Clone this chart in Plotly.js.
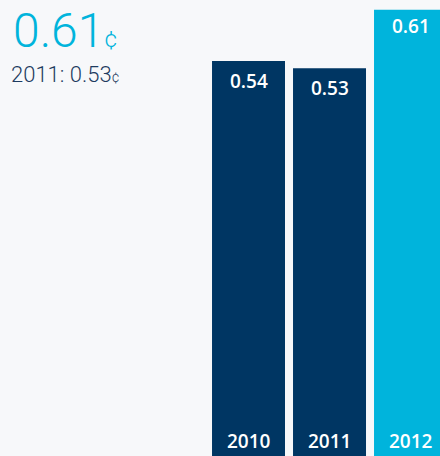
<!DOCTYPE html>
<html>
<head>
<meta charset="utf-8">
<script src="https://cdn.plot.ly/plotly-3.0.1.min.js"></script>
<style>
html,body{margin:0;padding:0;background:#f7f8fa;}
#chart{width:440px;height:456px;}
</style>
</head>
<body>
<div id="chart"></div>
<script>
var years = ['2010', '2011', '2012'];
var values = [0.54, 0.53, 0.61];
var barColors = ['#003663', '#003663', '#00b4dc'];
var headline = '0.61';
var subline = '2011: 0.53';

var cyan = '#00b4dc';
var labelFont = {family: '"Open Sans", "DejaVu Sans", sans-serif', size: 19, color: '#ffffff', weight: 600};

var annotations = [];
years.forEach(function (yr, i) {
  annotations.push({
    x: i, y: values[i], xref: 'x', yref: 'y',
    text: values[i].toFixed(2), showarrow: false,
    yanchor: 'top', yshift: i === 2 ? -1 : -5, font: labelFont
  });
  annotations.push({
    x: i, y: 0, xref: 'x', yref: 'y',
    text: yr, showarrow: false,
    yanchor: 'bottom', yshift: 0, font: labelFont
  });
});
annotations.push({
  xref: 'paper', yref: 'paper', x: 0.025, y: 1.0, xanchor: 'left', yanchor: 'top',
  text: headline + '<span style="font-size:24px">¢</span>', showarrow: false,
  font: {family: 'Roboto, sans-serif', size: 48, color: cyan, weight: 300}
});
annotations.push({
  xref: 'paper', yref: 'paper', x: 0.02, y: 0.868, xanchor: 'left', yanchor: 'top',
  text: subline + '<span style="font-size:14px">¢</span>', showarrow: false,
  font: {family: 'Roboto, sans-serif', size: 22, color: '#1d3b60', weight: 300}
});

var trace = {
  type: 'bar', x: [0, 1, 2], y: values,
  marker: {color: barColors, line: {width: 0}},
  hoverinfo: 'none'
};

var layout = {
  width: 440, height: 456,
  margin: {l: 0, r: 0, t: 0, b: 0},
  paper_bgcolor: '#f7f8fa', plot_bgcolor: 'rgba(0,0,0,0)',
  bargap: 0.099,
  showlegend: false,
  xaxis: {type: 'linear', range: [-3.068, 2.364], visible: false, fixedrange: true},
  yaxis: {range: [0, 0.6234], visible: false, fixedrange: true},
  annotations: annotations
};

Plotly.newPlot('chart', [trace], layout, {displayModeBar: false, staticPlot: true});
</script>
</body>
</html>
